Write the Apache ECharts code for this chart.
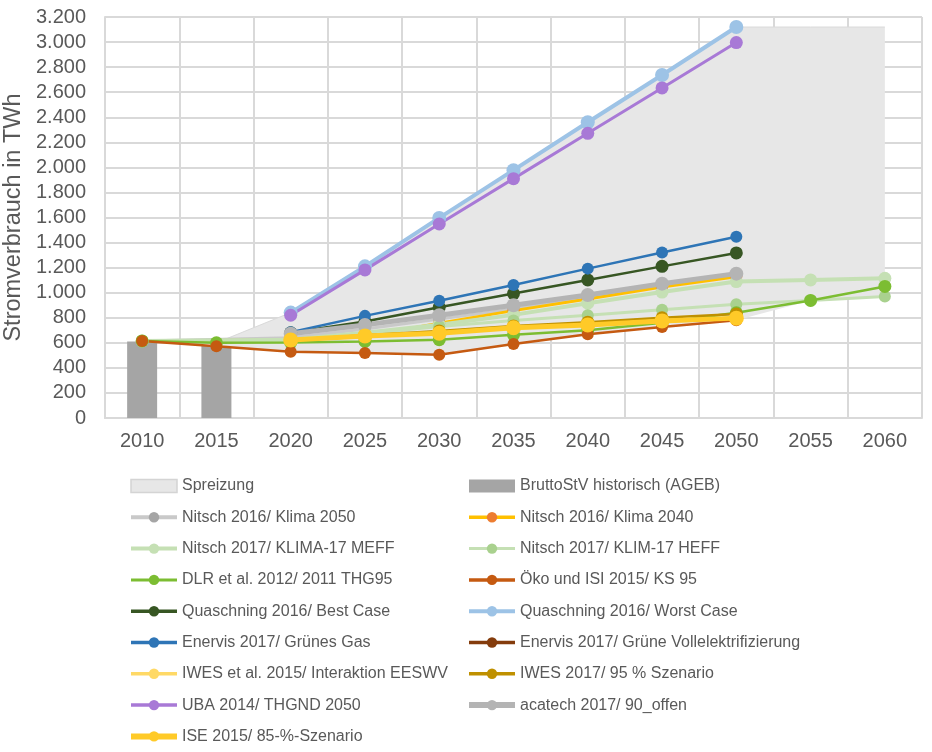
<!DOCTYPE html>
<html><head><meta charset="utf-8">
<script src="https://cdn.jsdelivr.net/npm/echarts@6/dist/echarts.min.js"></script>
<style>html,body{margin:0;padding:0;background:#fff}#c{width:932px;height:752px}</style>
</head><body><div id="c"></div>
<script>
const years = ['2010','2015','2020','2025','2030','2035','2040','2045','2050','2055','2060'];
const yTicks = [0,200,400,600,800,1000,1200,1400,1600,1800,2000,2200,2400,2600,2800,3000,3200];

const spreadLow  = [null, 572, 528, 518, 504, 590, 669, 727, 780, 938, 970];
const spreadHigh = [null, 600, 841, 1210, 1597, 1978, 2360, 2737, 3120, 3120, 3120];
const historic   = [610, 578, null, null, null, null, null, null, null, null, null];
const nitsch2050 = [615, null, 640, 710, 790, 870, 965, 1055, 1140, null, null];
const nitsch2040 = [615, null, 622, 650, 757, 857, 950, 1045, 1128, null, null];
const meff       = [615, null, 625, 680, 745, 823, 916, 1005, 1089, 1102, 1115];
const heff       = [615, null, 620, 670, 730, 778, 820, 863, 908, 938, 970];
const dlr        = [615, 600, 602, 611, 625, 664, 700, 760, 840, 938, 1050];
const oeko       = [615, 572, 528, 518, 504, 590, 669, 727, 780, null, null];
const bestCase   = [null, null, 680, 770, 884, 993, 1102, 1210, 1317, null, null];
const worstCase  = [null, null, 841, 1210, 1597, 1978, 2360, 2737, 3120, null, null];
const enervisGas = [null, null, 685, 815, 935, 1062, 1192, 1320, 1447, null, null];
const enervisVoll= [null, null, null, null, null, null, null, null, 790, null, null];
const iwes2015   = [null, null, 620, null, 680, null, 745, null, 795, null, null];
const iwes2017   = [null, null, 625, 660, 695, 735, 765, 800, 830, null, null];
const uba        = [null, null, 820, 1182, 1548, 1910, 2272, 2634, 2996, null, null];
const acatech    = [null, null, 672, 743, 820, 900, 982, 1072, 1152, null, null];
const ise        = [null, null, 622, 655, 677, 720, 743, 775, 797, null, null];

const FONT = 'Liberation Sans, Arial, sans-serif';
const TXT = '#595959';

function line(name, data, lineColor, markColor, lw, ms) {
  return {
    name, type: 'line', data, connectNulls: true,
    symbol: 'circle', symbolSize: ms,
    lineStyle: { color: lineColor, width: lw },
    itemStyle: { color: markColor },
    emphasis: { disabled: true }, animation: false
  };
}

const spreadDiff = spreadHigh.map((h, i) => (h == null || spreadLow[i] == null) ? null : h - spreadLow[i]);

const series = [
  { name: '_base', type: 'line', stack: 'spread', data: spreadLow, symbol: 'none',
    lineStyle: { opacity: 0 }, silent: true, animation: false },
  { name: 'Spreizung', type: 'line', stack: 'spread', data: spreadDiff, symbol: 'none',
    lineStyle: { color: '#dadada', width: 1 }, itemStyle: { color: '#e7e7e7' },
    areaStyle: { color: '#e7e7e7', opacity: 1 }, silent: true, animation: false },
  { name: 'BruttoStV historisch (AGEB)', type: 'bar', data: historic, barWidth: 30,
    itemStyle: { color: '#a5a5a5' }, animation: false },
  line('Nitsch 2016/ Klima 2050', nitsch2050, '#c9c9c9', '#a5a5a5', 3, 12),
  line('Nitsch 2016/ Klima 2040', nitsch2040, '#ffc000', '#ed7d31', 3, 12),
  line('Nitsch 2017/ KLIMA-17 MEFF', meff, '#c5e0b4', '#c5e0b4', 4, 13),
  line('Nitsch 2017/ KLIM-17 HEFF', heff, '#c5e0b4', '#a9d18e', 3, 12),
  line('DLR et al. 2012/ 2011 THG95', dlr, '#7cbd32', '#7cbd32', 2.5, 13),
  line('Öko und ISI 2015/ KS 95', oeko, '#c55a11', '#c55a11', 2.5, 12),
  line('Quaschning 2016/ Best Case', bestCase, '#375623', '#375623', 2.5, 13),
  line('Quaschning 2016/ Worst Case', worstCase, '#9dc3e6', '#9dc3e6', 4, 14),
  line('Enervis 2017/ Grünes Gas', enervisGas, '#2e75b6', '#2e75b6', 2.5, 12),
  line('Enervis 2017/ Grüne Vollelektrifizierung', enervisVoll, '#843c0c', '#843c0c', 2.5, 12),
  line('IWES et al. 2015/ Interaktion EESWV', iwes2015, '#ffd966', '#ffd966', 2.5, 12),
  line('IWES 2017/ 95 % Szenario', iwes2017, '#bf9000', '#bf9000', 2.5, 13),
  line('UBA 2014/ THGND 2050', uba, '#a879d6', '#a879d6', 3, 13),
  line('acatech 2017/ 90_offen', acatech, '#b4b4b4', '#b4b4b4', 5, 14),
  line('ISE 2015/ 85-%-Szenario', ise, '#ffca28', '#ffca28', 5, 15)
];

const lw = w => ({ lineStyle: { width: w } });
const legendCommon = {
  orient: 'vertical', top: 473, height: 290, itemWidth: 46, itemHeight: 13, itemGap: 15.3,
  selectedMode: false, textStyle: { color: TXT, fontSize: 16, fontFamily: FONT }
};

const option = {
  backgroundColor: '#fff',
  animation: false,
  grid: { left: 105, right: 10, top: 17, bottom: 334, containLabel: false, outerBoundsMode: 'none' },
  xAxis: {
    type: 'category', data: years, boundaryGap: true,
    axisLine: { show: true, lineStyle: { color: '#d9d9d9', width: 2 } },
    axisTick: { show: false },
    axisLabel: { color: TXT, fontSize: 20, fontFamily: FONT, margin: 13 },
    splitLine: { show: true, lineStyle: { color: '#d9d9d9', width: 2 } }
  },
  yAxis: {
    type: 'value', min: yTicks[0], max: yTicks[yTicks.length - 1], interval: 200,
    name: 'Stromverbrauch in TWh', nameLocation: 'middle', nameGap: 71, nameRotate: 90,
    nameTextStyle: { color: TXT, fontSize: 23.5, fontFamily: FONT },
    axisLine: { show: true, lineStyle: { color: '#d9d9d9', width: 2 } },
    axisTick: { show: false },
    axisLabel: { color: TXT, fontSize: 20, fontFamily: FONT, margin: 19,
      formatter: v => String(v).replace(/\B(?=(\d{3})+(?!\d))/g, '.') },
    splitLine: { show: true, lineStyle: { color: '#d9d9d9', width: 2 } }
  },
  legend: [
    Object.assign({}, legendCommon, { left: 123, data: [
      { name: 'Spreizung', icon: 'rect', itemStyle: { color: '#e7e7e7', borderColor: '#d4d4d4', borderWidth: 1.5 } },
      Object.assign({ name: 'Nitsch 2016/ Klima 2050' }, lw(4)),
      Object.assign({ name: 'Nitsch 2017/ KLIMA-17 MEFF' }, lw(4)),
      Object.assign({ name: 'DLR et al. 2012/ 2011 THG95' }, lw(3)),
      Object.assign({ name: 'Quaschning 2016/ Best Case' }, lw(3.5)),
      Object.assign({ name: 'Enervis 2017/ Grünes Gas' }, lw(3.5)),
      Object.assign({ name: 'IWES et al. 2015/ Interaktion EESWV' }, lw(3.5)),
      Object.assign({ name: 'UBA 2014/ THGND 2050' }, lw(3.5)),
      Object.assign({ name: 'ISE 2015/ 85-%-Szenario' }, lw(6))] }),
    Object.assign({}, legendCommon, { left: 461, data: [
      { name: 'BruttoStV historisch (AGEB)', icon: 'rect' },
      Object.assign({ name: 'Nitsch 2016/ Klima 2040' }, lw(3.5)),
      Object.assign({ name: 'Nitsch 2017/ KLIM-17 HEFF' }, lw(3)),
      Object.assign({ name: 'Öko und ISI 2015/ KS 95' }, lw(3.5)),
      Object.assign({ name: 'Quaschning 2016/ Worst Case' }, lw(4)),
      Object.assign({ name: 'Enervis 2017/ Grüne Vollelektrifizierung' }, lw(3.5)),
      Object.assign({ name: 'IWES 2017/ 95 % Szenario' }, lw(3.5)),
      Object.assign({ name: 'acatech 2017/ 90_offen' }, lw(6))] })
  ],
  series
};

const chart = echarts.init(document.getElementById('c'), null, { renderer: 'canvas' });
chart.setOption(option);
</script>
</body></html>
